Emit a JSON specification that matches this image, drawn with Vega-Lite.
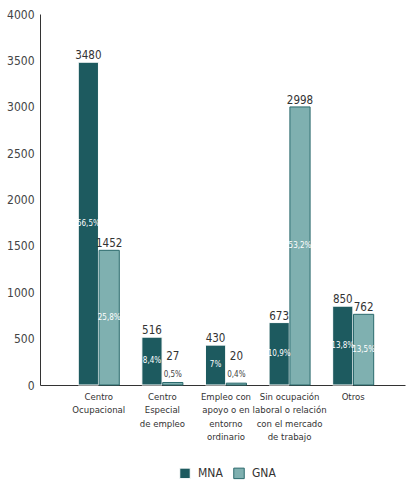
{
  "$schema": "https://vega.github.io/schema/vega-lite/v6.json",
  "width": 365,
  "height": 371,
  "autosize": "none",
  "padding": {"left": 40, "top": 14, "right": 2, "bottom": 99},
  "background": "white",
  "config": {
    "font": "DejaVu Sans Condensed",
    "view": {"stroke": null}
  },
  "data": {
    "values": [
      {"cat": "Centro Ocupacional", "grupo": "MNA", "valor": 3480, "pct": "56,5%"},
      {"cat": "Centro Ocupacional", "grupo": "GNA", "valor": 1452, "pct": "25,8%"},
      {"cat": "Centro Especial de empleo", "grupo": "MNA", "valor": 516, "pct": "8,4%"},
      {"cat": "Centro Especial de empleo", "grupo": "GNA", "valor": 27, "pct": "0,5%"},
      {"cat": "Empleo con apoyo o en entorno ordinario", "grupo": "MNA", "valor": 430, "pct": "7%"},
      {"cat": "Empleo con apoyo o en entorno ordinario", "grupo": "GNA", "valor": 20, "pct": "0,4%"},
      {"cat": "Sin ocupación laboral o relación con el mercado de trabajo", "grupo": "MNA", "valor": 673, "pct": "10,9%"},
      {"cat": "Sin ocupación laboral o relación con el mercado de trabajo", "grupo": "GNA", "valor": 2998, "pct": "53,2%"},
      {"cat": "Otros", "grupo": "MNA", "valor": 850, "pct": "13,8%"},
      {"cat": "Otros", "grupo": "GNA", "valor": 762, "pct": "13,5%"}
    ]
  },
  "encoding": {
    "x": {
      "field": "cat",
      "type": "nominal",
      "sort": null,
      "scale": {"paddingInner": 0.355, "paddingOuter": 0.547, "align": 0.55},
      "axis": {
        "title": null,
        "labelAngle": 0,
        "ticks": false,
        "domainColor": "#333333",
        "labelColor": "#333333",
        "labelFontSize": 9.5,
        "labelPadding": 6,
        "labelLineHeight": 13.5,
        "labelExpr": "datum.value == 'Centro Ocupacional' ? ['Centro','Ocupacional'] : datum.value == 'Centro Especial de empleo' ? ['Centro','Especial','de empleo'] : datum.value == 'Empleo con apoyo o en entorno ordinario' ? ['Empleo con','apoyo o en','entorno','ordinario'] : datum.value == 'Otros' ? 'Otros' : ['Sin ocupación','laboral o relación','con el mercado','de trabajo']"
      }
    },
    "xOffset": {"field": "grupo", "type": "nominal", "sort": ["MNA", "GNA"], "scale": {"paddingInner": 0.03}}
  },
  "layer": [
    {
      "mark": {"type": "bar", "strokeWidth": 1},
      "encoding": {
        "y": {
          "field": "valor",
          "type": "quantitative",
          "scale": {"domain": [0, 4000], "nice": false},
          "axis": {
            "title": null,
            "grid": false,
            "ticks": false,
            "format": "d",
            "values": [0, 500, 1000, 1500, 2000, 2500, 3000, 3500, 4000],
            "domainColor": "#333333",
            "labelColor": "#444444",
            "labelFontSize": 12,
            "labelPadding": 6
          }
        },
        "color": {
          "field": "grupo",
          "type": "nominal",
          "sort": ["MNA", "GNA"],
          "scale": {"domain": ["MNA", "GNA"], "range": ["#1d5a5f", "#7fb0b0"]},
          "legend": {
            "title": null,
            "orient": "none",
            "direction": "horizontal",
            "legendX": 139,
            "legendY": 453,
            "symbolType": "square",
            "symbolSize": 110,
            "symbolStrokeColor": "#2b6a6d",
            "symbolStrokeWidth": 1,
            "labelFontSize": 12,
            "labelColor": "#333333",
            "labelOffset": 7,
            "columnPadding": 8
          }
        },
        "stroke": {
          "field": "grupo",
          "type": "nominal",
          "scale": {"domain": ["MNA", "GNA"], "range": ["#ffffff", "#2b6a6d"]},
          "legend": null
        }
      }
    },
    {
      "transform": [{"calculate": "max(datum.valor, 235)", "as": "arriba"}],
      "mark": {"type": "text", "baseline": "bottom", "dy": -1, "fontSize": 11.5, "color": "#333333"},
      "encoding": {
        "y": {"field": "arriba", "type": "quantitative"},
        "text": {"field": "valor", "type": "quantitative", "format": "d"}
      }
    },
    {
      "transform": [{"calculate": "max(datum.valor / 2, 112)", "as": "mitad"}],
      "mark": {"type": "text", "baseline": "middle", "fontSize": 8},
      "encoding": {
        "y": {"field": "mitad", "type": "quantitative"},
        "text": {"field": "pct"},
        "color": {"condition": {"test": "datum.valor < 100", "value": "#444444"}, "value": "#ffffff"}
      }
    }
  ]
}
